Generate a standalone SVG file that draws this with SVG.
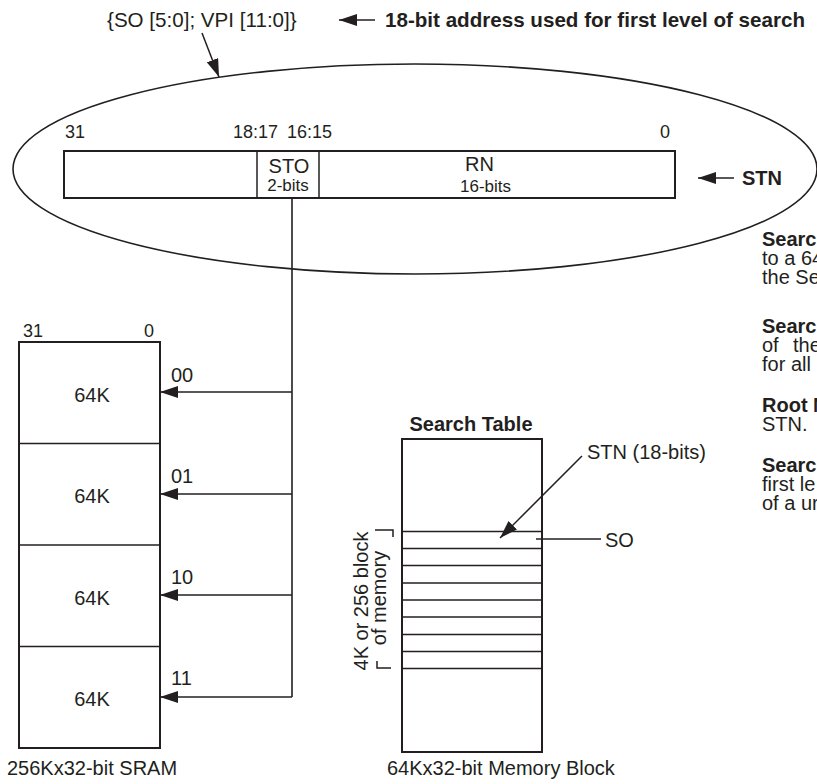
<svg xmlns="http://www.w3.org/2000/svg" width="817" height="784" viewBox="0 0 817 784">
<style>
text{font-family:"Liberation Sans",Arial,sans-serif;fill:#231f20;font-size:20px}
.b{font-weight:bold}
.s{font-size:18px}
.xs{font-size:17px}
.m{text-anchor:middle}
.t{font-size:20.6px}
.ln{stroke:#231f20;stroke-width:1.6;fill:none}
.bx{stroke:#231f20;stroke-width:2;fill:#fff}
.thin{stroke:#231f20;stroke-width:1.5}
</style>
<defs>
<marker id="ah" viewBox="0 0 18 12" markerWidth="18" markerHeight="12" refX="18" refY="6" orient="auto" markerUnits="userSpaceOnUse">
<path d="M0,0 L18,6 L0,12 z" fill="#231f20"/>
</marker>
</defs>
<rect width="817" height="784" fill="#fff"/>

<g id="address-label">
<text class="t" x="107" y="27">{SO [5:0]; VPI [11:0]}</text>
<text class="b t" x="385" y="27">18-bit address used for first level of search</text>
</g>

<g id="stn-register">
<ellipse cx="415" cy="169" rx="402" ry="105" class="ln"/>
<text class="s" x="65" y="138">31</text>
<text class="s" x="233" y="138">18:17</text>
<text class="s" x="287" y="138">16:15</text>
<text class="s" x="660" y="138">0</text>
<rect x="64" y="151" width="611" height="47" class="bx"/>
<line x1="257" y1="151" x2="257" y2="198" class="thin"/>
<line x1="319" y1="151" x2="319" y2="198" class="thin"/>
<text class="m" x="289" y="173">STO</text>
<text class="xs m" x="288" y="191">2-bits</text>
<text x="465" y="171">RN</text>
<text class="xs" x="460" y="192">16-bits</text>
<text class="b" x="742" y="185">STN</text>
</g>

<g id="sram">
<text class="s" x="23" y="337">31</text>
<text class="s" x="144" y="337">0</text>
<rect x="19" y="342" width="141" height="406" class="bx"/>
<line x1="19" y1="443.5" x2="160" y2="443.5" class="thin"/>
<line x1="19" y1="545" x2="160" y2="545" class="thin"/>
<line x1="19" y1="646.5" x2="160" y2="646.5" class="thin"/>
<text class="m" x="92" y="402">64K</text>
<text class="m" x="92" y="503">64K</text>
<text class="m" x="92" y="605">64K</text>
<text class="m" x="92" y="706">64K</text>
<text x="171" y="382">00</text>
<text x="171" y="483">01</text>
<text x="171" y="584">10</text>
<text x="171" y="685">11</text>
<text x="7" y="775">256Kx32-bit SRAM</text>
</g>

<g id="search-table">
<text class="b m" x="471" y="431">Search Table</text>
<rect x="402" y="439" width="140" height="313" class="bx"/>
<g class="thin">
<line x1="402" y1="531.5" x2="542" y2="531.5"/>
<line x1="402" y1="548.5" x2="542" y2="548.5"/>
<line x1="402" y1="565.5" x2="542" y2="565.5"/>
<line x1="402" y1="583" x2="542" y2="583"/>
<line x1="402" y1="600" x2="542" y2="600"/>
<line x1="402" y1="617" x2="542" y2="617"/>
<line x1="402" y1="634.5" x2="542" y2="634.5"/>
<line x1="402" y1="651.5" x2="542" y2="651.5"/>
<line x1="402" y1="668.5" x2="542" y2="668.5"/>
</g>
<text class="m" transform="translate(368,601) rotate(-90)">4K or 256 block</text>
<text class="m" transform="translate(386,598) rotate(-90)">of memory</text>
<path d="M375,530 H393 V537 M377,661 V668 H391" class="thin" fill="none"/>
<text x="587" y="459">STN (18-bits)</text>
<text x="605" y="547">SO</text>
<text x="387" y="775">64Kx32-bit Memory Block</text>
</g>

<g id="notes">
<text class="b" x="762" y="246">Searc</text>
<text x="762" y="265">to a 64</text>
<text x="762" y="284">the Se</text>
<text class="b" x="762" y="333">Searc</text>
<text x="762" y="352">of<tspan x="793">the</tspan></text>
<text x="762" y="371">for all</text>
<text x="762" y="412"><tspan class="b">Root N</tspan></text>
<text x="762" y="431">STN.</text>
<text class="b" x="762" y="472">Searc</text>
<text x="762" y="491">first le</text>
<text x="762" y="510">of a ur</text>
</g>

<g id="connectors">
<line x1="375" y1="20" x2="339" y2="20" class="thin" marker-end="url(#ah)"/>
<line x1="202" y1="33" x2="219" y2="77" class="thin" marker-end="url(#ah)"/>
<line x1="734" y1="178" x2="698" y2="178" class="thin" marker-end="url(#ah)"/>
<polyline points="292,198 292,697" class="ln"/>
<line x1="292" y1="392" x2="160" y2="392" class="thin" marker-end="url(#ah)"/>
<line x1="292" y1="494" x2="160" y2="494" class="thin" marker-end="url(#ah)"/>
<line x1="292" y1="595" x2="160" y2="595" class="thin" marker-end="url(#ah)"/>
<line x1="292" y1="697" x2="160" y2="697" class="thin" marker-end="url(#ah)"/>
<line x1="582" y1="456" x2="500" y2="538" class="thin" marker-end="url(#ah)"/>
<line x1="536" y1="539" x2="601" y2="539" class="thin"/>
</g>
</svg>
